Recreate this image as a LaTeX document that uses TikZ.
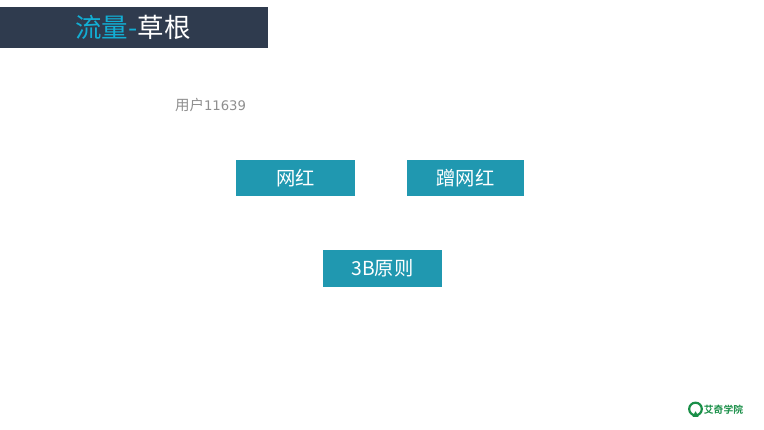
\documentclass[tikz,border=0pt]{standalone}
\usepackage{fontspec}
\setmainfont{Open Sans}
\newfontfamily\cjk{Noto Sans CJK SC}
\newfontfamily\cjkb{Noto Sans CJK SC Bold}
\newfontfamily\digits{DejaVu Sans}
\definecolor{titlebg}{HTML}{2F3B4E}
\definecolor{titleblue}{HTML}{12AED4}
\definecolor{boxteal}{HTML}{2098B0}
\definecolor{usergray}{HTML}{8F8F8F}
\definecolor{logogreen}{HTML}{1A8F48}
\tikzset{
  x=1pt,y=-1pt,
  tealbox/.style={fill=boxteal,draw=none,inner sep=0pt,text=white,minimum height=36pt,font=\cjk\fontsize{19.3}{22}\selectfont},
}
\begin{document}
\begin{tikzpicture}
\useasboundingbox (0,0) rectangle (764,430);
\fill[white] (0,0) rectangle (764,430);
\node[fill=titlebg,draw=none,inner sep=0pt,minimum width=268pt,minimum height=41pt] (title) at (134,27.5) {};
\node[inner sep=0pt,font=\cjk\fontsize{26.5}{28}\selectfont] (titletext) at (133,27) {\textcolor{titleblue}{流量-}\textcolor{white}{草根}};
\node[inner sep=0pt,text=usergray,font=\cjk\fontsize{14.5}{16}\selectfont] (user) at (210.5,105) {用户{\digits\fontsize{13.2}{16}\selectfont 11639}};
\node[tealbox,minimum width=119pt] (a) at (295.5,178) {网红};
\node[tealbox,minimum width=117pt] (b) at (465.5,178) {蹭网红};
\node[tealbox,minimum width=119pt,minimum height=37pt] (c) at (382.5,268.5) {3B原则};
\draw[logogreen,line width=2.2pt] (695.5,409) circle (6.3pt);
\fill[logogreen] (695.5,411) -- (692.5,417) -- (698.5,417) -- cycle;
\fill[white] (695.5,408.5) circle (3pt);
\node[inner sep=0pt,text=logogreen,font=\cjkb\fontsize{9.8}{12}\selectfont] (logo) at (723.5,409.5) {艾奇学院};
\end{tikzpicture}
\end{document}
